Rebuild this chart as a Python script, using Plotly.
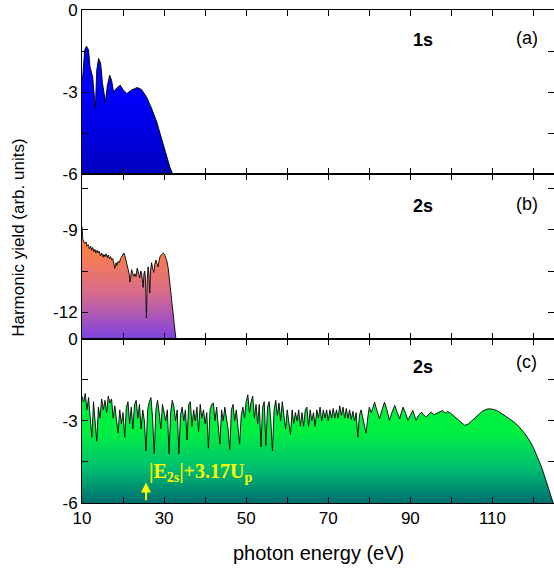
import numpy as np
import plotly.graph_objects as go
from plotly.subplots import make_subplots

# ---------------- data ----------------
# panel (a): 1s
e_a = [10.0, 10.2, 10.65, 11.1, 11.6, 11.95, 12.6, 13.25, 13.6, 14.05, 14.55, 15.0, 15.7,
       16.2, 16.75, 17.2, 17.7, 18.4, 19.3, 20.05, 20.9, 22.1, 23.45, 24.5, 25.7, 26.95,
       28.2, 29.4, 30.45, 31.4, 32.2]
y_a = [-2.5, -2.38, -1.46, -1.32, -1.46, -2.07, -2.44, -3.59, -2.19, -1.77, -1.95, -2.68, -3.35,
       -2.74, -2.38, -2.56, -2.99, -2.86, -2.74, -2.92, -3.05, -2.92, -2.83, -2.9, -3.17, -3.59,
       -4.08, -4.69, -5.24, -5.73, -6.03]

# panel (b): 2s
e_b = [10.0, 10.2, 10.5, 10.7, 11.0, 11.2, 11.5, 11.8, 12.1, 12.35, 12.6, 12.9, 13.15, 13.4,
       13.7, 13.95, 14.2, 14.5, 14.8, 15.1, 15.35, 15.6, 15.9, 16.2, 16.4, 16.7, 17.0, 17.2,
       17.5, 17.8, 18.0, 18.3, 18.5, 18.8, 19.1, 19.4, 19.65, 19.9, 20.2, 20.45, 20.7, 21.0,
       21.25, 21.5, 21.7, 21.9, 22.1, 22.3, 22.6, 22.9, 23.15, 23.45, 23.8, 24.1, 24.3, 24.5,
       24.7, 24.9, 25.1, 25.3, 25.5, 25.7, 25.9, 26.1, 26.3, 26.5, 26.7, 26.95, 27.2, 27.5,
       27.75, 28.0, 28.3, 28.55, 28.8, 29.1, 29.4, 29.8, 30.1, 30.4, 30.7, 31.0, 31.3, 31.6,
       31.9, 32.2, 32.6, 32.9, 33.2]
y_b = [-8.9, -9.35, -9.45, -9.5, -9.45, -9.6, -9.55, -9.7, -9.6, -9.75, -9.65, -9.8, -9.72, -9.85,
       -9.75, -9.85, -9.78, -9.95, -9.85, -10.0, -9.9, -9.98, -9.88, -10.02, -9.92, -10.05, -9.98, -10.1,
       -10.05, -10.25, -10.4, -10.2, -10.3, -10.15, -10.2, -10.05, -10.0, -9.92, -9.85, -9.95, -10.1, -10.3,
       -10.45, -10.6, -10.9, -10.55, -10.45, -10.55, -10.7, -10.6, -10.7, -10.4, -10.6, -10.75, -10.5, -10.55,
       -10.8, -11.1, -10.6, -10.5, -10.9, -12.2, -10.8, -10.35, -10.6, -11.3, -10.5, -10.2, -10.4, -10.55,
       -10.25, -10.1, -10.25, -10.35, -10.1, -9.95, -9.9, -9.85, -9.9, -10.0, -10.15, -10.4, -10.8, -11.35,
       -11.8, -12.2, -12.6, -12.95, -13.4]

# panel (c): 2s (long wavelength) -- dense part sampled every 0.4 eV from 10 eV
e_c_dense = np.round(np.arange(10.0, 79.7, 0.4), 2).tolist()
y_c_dense = [
    -2.1, -2.3, -2.0, -2.6, -2.15, -2.8, -3.6, -2.3, -2.9, -3.75,
    -2.5, -2.9, -2.2, -2.6, -2.25, -2.7, -2.1, -2.35, -2.2, -2.9,
    -2.45, -3.0, -3.45, -2.6, -3.1, -2.7, -3.6, -2.5, -2.3, -3.1,
    -2.5, -3.3, -2.4, -2.25, -2.9, -2.4, -3.3, -2.6, -3.0, -4.1,
    -2.6, -2.3, -2.15, -2.9, -4.2, -2.6, -2.25, -2.7, -3.3, -2.4,
    -2.7, -3.0, -2.6, -4.2, -2.7, -2.25, -2.5, -3.0, -2.6, -4.2,
    -2.8, -2.5, -3.0, -2.6, -3.7, -2.4, -2.3, -3.2, -2.6, -3.0,
    -2.5, -3.4, -2.4, -2.9, -2.6, -3.1, -2.7, -4.0, -2.6, -2.4,
    -2.35, -3.0, -2.5, -3.2, -3.85, -2.6, -3.0, -2.5, -2.9, -3.3,
    -4.05, -2.6, -2.4, -3.0, -2.6, -3.3, -3.85, -2.8, -2.5, -2.9,
    -2.3, -2.05, -2.7, -2.3, -2.1, -2.9, -2.4, -3.1, -2.4, -3.95,
    -2.5, -2.3, -3.9, -2.5, -2.3, -3.0, -4.1, -2.6, -2.25, -2.8,
    -2.35, -3.0, -2.3, -2.8, -3.3, -2.6, -3.0, -3.5, -2.6, -3.1,
    -2.7, -3.0, -2.6, -3.2, -2.7, -3.2, -2.6, -2.5, -3.2, -2.6,
    -3.0, -2.7, -3.2, -2.6, -2.9, -2.5, -3.0, -2.6, -2.9, -2.6,
    -3.0, -2.6, -2.9, -2.55, -2.9, -2.6, -2.9, -2.45, -2.8, -2.5,
    -2.9, -2.55, -2.9, -2.6, -2.95, -2.65, -3.0, -2.7, -3.6, -2.8,
    -2.6, -2.9, -3.1, -3.45, -2.9]
e_c_tail = [80.0, 80.5, 81.0, 81.3, 81.8, 82.5, 83.1, 83.7, 84.3, 84.9, 85.5, 86.2, 86.8, 87.4,
            87.8, 88.2, 88.8, 89.4, 90.0, 90.6, 91.0, 91.4, 92.0, 92.7, 93.3, 93.9, 94.5, 95.1,
            95.7, 96.3, 97.0, 97.9, 98.5, 99.1, 99.8, 100.4, 101.2, 102.0, 102.6, 103.2, 104.0,
            104.6, 105.2, 106.0, 106.8, 107.6, 108.5, 109.3, 110.1, 111.0, 111.7, 113.0, 114.1,
            115.3, 116.5, 117.8, 119.0, 120.0, 121.0, 122.0, 123.0, 124.0, 124.8, 125.5]
y_c_tail = [-2.5, -2.7, -2.45, -2.32, -2.6, -2.92, -2.6, -2.32, -2.6, -2.98, -2.7, -2.44, -2.7, -2.92,
            -2.7, -2.5, -2.7, -2.98, -2.8, -2.62, -2.8, -2.98, -2.8, -2.68, -2.8, -2.86, -2.75, -2.68,
            -2.78, -2.74, -2.68, -2.62, -2.72, -2.66, -2.72, -2.8, -2.88, -2.98, -3.06, -3.16, -3.13,
            -3.05, -2.98, -2.85, -2.74, -2.64, -2.58, -2.56, -2.58, -2.62, -2.68, -2.8, -2.92,
            -3.05, -3.22, -3.45, -3.71, -3.98, -4.32, -4.7, -5.16, -5.6, -6.0, -6.4]
e_c = e_c_dense + e_c_tail
y_c = y_c_dense + y_c_tail

x_range = [10, 125]
x_tickvals = [10, 30, 50, 70, 90, 110]
x_ticktext = ["10", "30", "50", "70", "90", "110"]
x_minor = [20, 40, 60, 80, 100, 120]

ya_range, ya_vals, ya_text, ya_minor = [-6, 0], [0, -3, -6], ["0", "-3", "-6"], [-1.5, -4.5]
yb_range, yb_vals, yb_text, yb_minor = [-12.95, -7], [-9, -12], ["-9", "-12"], [-7.5, -10.5]
yc_range, yc_vals, yc_text, yc_minor = [-6, 0], [0, -3, -6], ["0", "-3", "-6"], [-1.5, -4.5]

labels = ["1s", "2s", "2s"]
letters = ["(a)", "(b)", "(c)"]

# ---------------- figure ----------------
fig = make_subplots(rows=3, cols=1, shared_xaxes=True, vertical_spacing=0)

panels = [
    (e_a, y_a, ya_range, [[0, "#0000c0"], [1, "#0000ff"]], -6, -3),
    (e_b, y_b, yb_range, [[0, "#7f42e0"], [0.5, "#d86c8c"], [1, "#ff8040"]], -12.95, -9.6),
    (e_c, y_c, yc_range, [[0, "#006e70"], [0.5, "#00c070"], [1, "#00f040"]], -6, -3.4),
]

for i, (ex, ey, yr, cs, g0, g1) in enumerate(panels):
    row = i + 1
    fig.add_trace(go.Scatter(x=[ex[0], ex[-1]], y=[yr[0], yr[0]], mode="lines",
                             line=dict(width=0), hoverinfo="skip"), row=row, col=1)
    fig.add_trace(go.Scatter(x=ex, y=ey, mode="lines", fill="tonexty",
                             line=dict(color="black", width=0.9),
                             fillgradient=dict(type="vertical", colorscale=cs, start=g0, stop=g1)),
                  row=row, col=1)

axis_common = dict(showline=True, linecolor="black", linewidth=1, mirror="ticks",
                   ticks="inside", ticklen=6, tickcolor="black", tickwidth=1,
                   showgrid=False, zeroline=False,
                   tickfont=dict(family="Liberation Sans", size=17, color="black"))

for r in range(1, 4):
    fig.update_xaxes(range=x_range, tickmode="array", tickvals=x_tickvals, ticktext=x_ticktext,
                     minor=dict(tickmode="array", tickvals=x_minor, ticks="inside", ticklen=6,
                                tickcolor="black", showgrid=False),
                     showticklabels=(r == 3), row=r, col=1, **axis_common)

for r, (yr, yv, yt, ym) in enumerate([(ya_range, ya_vals, ya_text, ya_minor),
                                      (yb_range, yb_vals, yb_text, yb_minor),
                                      (yc_range, yc_vals, yc_text, yc_minor)], start=1):
    fig.update_yaxes(range=yr, tickmode="array", tickvals=yv, ticktext=yt,
                     minor=dict(tickmode="array", tickvals=ym, ticks="inside", ticklen=6,
                                tickcolor="black", showgrid=False),
                     row=r, col=1, **axis_common)

# panel labels
label_y = [(-1.1, -1.02), (-8.14, -8.07), (-1.05, -0.87)]
yrefs = ["y", "y2", "y3"]
for i in range(3):
    fig.add_annotation(x=93.1, y=label_y[i][0], xref="x", yref=yrefs[i], showarrow=False,
                       text="<b>%s</b>" % labels[i],
                       font=dict(family="Liberation Sans", size=18, color="black"))
    fig.add_annotation(x=118.4, y=label_y[i][1], xref="x", yref=yrefs[i], showarrow=False,
                       text=letters[i],
                       font=dict(family="Liberation Sans", size=18, color="black"))

# cutoff marker
cut_e = 25.6
fig.add_annotation(x=cut_e, y=-5.25, ax=cut_e, ay=-5.95, xref="x3", yref="y3",
                   axref="x3", ayref="y3", showarrow=True, text="",
                   arrowhead=2, arrowsize=1, arrowwidth=2, arrowcolor="#ffff00")
fig.add_annotation(x=25.9, y=-4.9, xref="x3", yref="y3", xanchor="left", yanchor="middle",
                   showarrow=False,
                   text="<b>|E<sub>2s</sub>|+3.17U<sub>p</sub></b>",
                   font=dict(family="Liberation Serif", size=20, color="#ffff00"))

# axis titles
fig.add_annotation(x=-0.136, y=0.5375, xref="paper", yref="paper", showarrow=False,
                   xanchor="center", yanchor="middle",
                   textangle=-90, text="Harmonic yield (arb. units)",
                   font=dict(family="Liberation Sans", size=17, color="black"))
fig.add_annotation(x=0.5, y=-0.076, xref="paper", yref="paper", showarrow=False,
                   xanchor="center", yanchor="top", text="photon energy (eV)",
                   font=dict(family="Liberation Sans", size=20, color="black"))

fig.update_layout(width=554, height=573, margin=dict(l=82, r=0, t=10, b=70),
                  plot_bgcolor="white", paper_bgcolor="white", showlegend=False)

fig.write_html("out.html")
